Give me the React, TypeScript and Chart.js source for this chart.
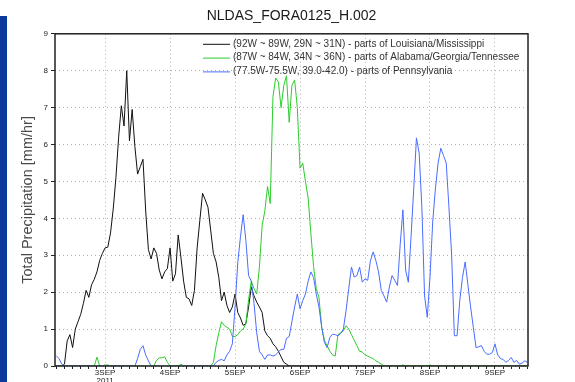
import React, { useEffect, useRef } from 'react';
import { Chart, registerables } from 'chart.js';

Chart.register(...registerables);

const TITLE = 'NLDAS_FORA0125_H.002';
const Y_TITLE = 'Total Precipitation [mm/hr]';
// hours relative to 3SEP2011 00Z
const FIRST_HOUR = -18;
const X_MIN = -18.5;
const X_MAX = 156.2;
const DAY_LABELS = ['3SEP', '4SEP', '5SEP', '6SEP', '7SEP', '8SEP', '9SEP'];
const YEAR_LABEL = '2011';
const Y_TICKS = [0, 1, 2, 3, 4, 5, 6, 7, 8, 9];

const SERIES_LABELS = [
  '(92W ~ 89W, 29N ~ 31N) - parts of Louisiana/Mississippi',
  '(87W ~ 84W, 34N ~ 36N) - parts of Alabama/Georgia/Tennessee',
  '(77.5W-75.5W, 39.0-42.0) - parts of Pennsylvania',
];
const SERIES_COLORS = ['#111111', '#2ccc2c', '#4a6cff'];

const louisiana = [
  0, 0, 0, 0.05, 0.68, 0.85, 0.5, 1.0, 1.2, 1.4, 1.7, 2.05, 1.86, 2.2, 2.35, 2.55, 2.86, 3.05,
  3.2, 3.22, 3.6, 4.25, 5.1, 6.2, 7.05, 6.5, 8.0, 6.1, 6.95, 5.95, 5.2, 5.4, 5.6, 4.2, 3.15, 2.9, 3.2, 3.05, 2.6, 2.36, 2.55, 2.64,
  3.2, 2.3, 2.5, 3.55, 2.95, 2.3, 1.86, 1.82, 1.64, 2.05, 3.2, 3.95, 4.68, 4.5, 4.3, 3.68, 3.05, 2.82, 2.4, 1.77, 2.0, 1.64, 1.45, 1.6,
  1.95, 1.45, 1.3, 1.1, 1.15, 1.6, 2.14, 1.9, 1.73, 1.6, 1.45, 0.95, 0.82, 0.75, 0.6, 0.52, 0.4, 0.25, 0.1, 0.05, 0, 0, 0, 0,
  0, 0, 0, 0, 0, 0, 0, 0, 0, 0, 0, 0, 0, 0, 0, 0, 0, 0, 0, 0, 0, 0, 0, 0,
  0, 0, 0, 0, 0, 0, 0, 0, 0, 0, 0, 0, 0, 0, 0, 0, 0, 0, 0, 0, 0, 0, 0, 0,
  0, 0, 0, 0, 0, 0, 0, 0, 0, 0, 0, 0, 0, 0, 0, 0, 0, 0, 0, 0, 0, 0, 0, 0,
  0, 0, 0, 0, 0, 0, 0, 0, 0, 0, 0, 0, 0,
];

const alabama = [
  0, 0, 0, 0, 0, 0, 0, 0, 0, 0, 0, 0, 0, 0, 0, 0.24, 0, 0,
  0.03, 0.03, 0, 0, 0, 0, 0, 0, 0, 0, 0, 0, 0, 0, 0, 0, 0, 0, 0, 0.15, 0.22, 0.22, 0.25, 0.1,
  0, 0, 0, 0, 0.05, 0, 0, 0, 0, 0, 0, 0, 0, 0, 0, 0, 0.1, 0.55, 0.9, 1.2, 1.1, 1.05, 1.0, 0.8,
  0.8, 0.85, 0.95, 1.0, 1.14, 1.8, 2.3, 2.1, 1.95, 2.68, 3.8, 4.2, 4.86, 4.4, 7.3, 7.8, 7.7, 7.0, 7.6, 7.86, 6.6, 7.6, 7.75, 7.0,
  5.36, 5.5, 5.0, 4.55, 3.6, 2.7, 2.1, 1.86, 1.05, 0.7, 0.55, 0.4, 0.3, 0.27, 0.85, 0.9, 0.95, 1.09, 1.0, 0.85, 0.7, 0.55, 0.4, 0.38,
  0.3, 0.27, 0.23, 0.2, 0.14, 0.1, 0.05, 0, 0, 0, 0, 0, 0, 0, 0.03, 0, 0, 0, 0, 0, 0, 0, 0, 0,
  0.03, 0, 0, 0, 0, 0, 0, 0, 0, 0, 0, 0, 0, 0, 0, 0, 0, 0, 0, 0, 0, 0, 0, 0,
  0, 0, 0, 0, 0, 0, 0, 0, 0, 0, 0, 0, 0,
];

const pennsylvania = [
  0.27, 0.2, 0.05, 0, 0, 0, 0, 0, 0, 0, 0, 0, 0, 0, 0, 0, 0, 0,
  0, 0, 0, 0, 0, 0, 0, 0, 0, 0, 0, 0, 0.2, 0.45, 0.55, 0.3, 0.14, 0, 0, 0, 0, 0, 0, 0,
  0, 0, 0, 0, 0, 0, 0, 0, 0, 0, 0, 0, 0, 0, 0, 0, 0, 0.1, 0.15, 0.18, 0.14, 0.3, 0.4, 0.6,
  1.6, 2.8, 3.5, 4.1, 3.4, 2.45, 2.3, 1.7, 0.9, 0.4, 0.3, 0.18, 0.3, 0.3, 0.27, 0.3, 0.38, 0.45, 0.45, 0.75, 0.8, 1.2, 1.6, 1.95,
  1.55, 1.77, 1.95, 2.3, 2.55, 2.4, 1.95, 1.6, 1.05, 0.64, 0.5, 0.77, 0.86, 0.85, 0.82, 0.88, 1.0, 1.5, 2.1, 2.68, 2.41, 2.45, 2.68, 2.27,
  2.36, 2.32, 2.85, 3.09, 2.86, 2.55, 2.05, 1.9, 1.73, 2.14, 2.45, 2.32, 2.18, 3.3, 4.23, 2.6, 2.27, 3.5, 4.8, 6.18, 5.77, 4.3, 1.9, 1.32,
  2.41, 3.9, 4.8, 5.5, 5.9, 5.7, 5.5, 4.3, 3.0, 0.82, 0.82, 1.77, 2.4, 2.82, 2.2, 1.6, 1.05, 0.5, 0.52, 0.55, 0.4, 0.32, 0.32, 0.36,
  0.6, 0.3, 0.2, 0.18, 0.1, 0.15, 0.23, 0.1, 0.15, 0.05, 0.08, 0.14, 0.1,
];

const SERIES = [louisiana, alabama, pennsylvania];

const FONT = '"Liberation Sans", Arial, Helvetica, sans-serif';

const framePlugin = {
  id: 'frameAndLegend',
  afterDraw(chart: any) {
    const { ctx, chartArea } = chart;
    const { left, top, right, bottom } = chartArea;
    ctx.save();
    ctx.strokeStyle = '#222222';
    ctx.lineWidth = 1.5;
    ctx.strokeRect(left, top, right - left, bottom - top);
    // legend
    ctx.font = '10px ' + FONT;
    ctx.textBaseline = 'middle';
    ctx.textAlign = 'left';
    chart.data.datasets.forEach((ds: any, i: number) => {
      const y = top + 10 + i * 13.8;
      const x0 = left + 148;
      ctx.strokeStyle = ds.borderColor;
      ctx.lineWidth = 1;
      ctx.beginPath();
      ctx.moveTo(x0, y + 0.5);
      ctx.lineTo(x0 + 27, y + 0.5);
      ctx.stroke();
      ctx.fillStyle = '#333333';
      ctx.fillText(ds.label, x0 + 30, y);
    });
    ctx.restore();
  },
};

export default function App() {
  const canvasRef = useRef<HTMLCanvasElement | null>(null);

  useEffect(() => {
    const canvas = canvasRef.current;
    if (!canvas) return;
    const hours = SERIES[0].map((_, i) => FIRST_HOUR + i);
    const datasets = SERIES.map((values, s) => ({
      label: SERIES_LABELS[s],
      data: values.map((v, i) => ({ x: hours[i], y: v })),
      borderColor: SERIES_COLORS[s],
      backgroundColor: SERIES_COLORS[s],
      borderWidth: 1,
      pointRadius: 0,
      tension: 0,
      fill: false,
      order: 3 - s,
    }));

    const chart = new Chart(canvas, {
      type: 'line',
      data: { datasets },
      options: {
        responsive: false,
        animation: false,
        maintainAspectRatio: false,
        layout: { padding: { left: 8, right: 47, top: 0, bottom: 0 } },
        plugins: {
          legend: { display: false },
          tooltip: { enabled: false },
          title: {
            display: true,
            text: TITLE,
            fullSize: false,
            color: '#1a1a1a',
            font: { family: FONT, size: 14, weight: 'normal' },
            padding: { top: 8, bottom: 9 },
          },
        },
        scales: {
          x: {
            type: 'linear',
            min: X_MIN,
            max: X_MAX,
            afterBuildTicks: (axis: any) => {
              const ticks = [];
              for (let h = FIRST_HOUR; h <= X_MAX; h += 3) ticks.push({ value: h });
              axis.ticks = ticks;
            },
            afterFit: (scale: any) => {
              scale.height = 16;
            },
            ticks: {
              autoSkip: false,
              maxRotation: 0,
              minRotation: 0,
              padding: 0,
              color: '#222222',
              font: { family: FONT, size: 8, lineHeight: 1 },
              callback: (value: any) => {
                const v = Number(value);
                if (v % 24 !== 0) return '';
                const idx = v / 24;
                const lab = DAY_LABELS[idx];
                if (lab === undefined) return '';
                return idx === 0 ? [lab, YEAR_LABEL] : lab;
              },
            },
            grid: {
              drawTicks: true,
              tickLength: 3,
              tickColor: '#222222',
              color: (c: any) => (c.tick && c.tick.value % 24 === 0 ? '#b0b0b0' : 'rgba(0,0,0,0)'),
              lineWidth: 1,
            },
            border: { display: false, dash: [1, 3] },
          },
          y: {
            type: 'linear',
            min: 0,
            max: 9,
            afterBuildTicks: (axis: any) => {
              axis.ticks = Y_TICKS.map((v) => ({ value: v }));
            },
            afterFit: (scale: any) => {
              scale.width = 47;
            },
            ticks: {
              padding: 3,
              color: '#222222',
              font: { family: FONT, size: 8 },
              callback: (value: any) => String(value),
            },
            grid: {
              drawTicks: true,
              tickLength: 4,
              tickColor: '#222222',
              color: '#b0b0b0',
              lineWidth: 1,
            },
            border: { display: false, dash: [1, 3] },
            title: {
              display: true,
              text: Y_TITLE,
              color: '#4a4a4a',
              font: { family: FONT, size: 14.5 },
              padding: { top: 11, bottom: 0 },
            },
          },
        },
      },
      plugins: [framePlugin],
    } as any);
    return () => chart.destroy();
  }, []);

  return (
    <div style={{ position: 'fixed', left: 0, top: 0, width: 575, height: 382, background: '#ffffff' }}>
      <div style={{ position: 'absolute', left: 0, top: 16, width: 7, height: 366, background: '#0b3a9c' }} />
      <canvas ref={canvasRef} width={575} height={382} style={{ position: 'absolute', left: 0, top: 0, display: 'block' }} />
    </div>
  );
}
